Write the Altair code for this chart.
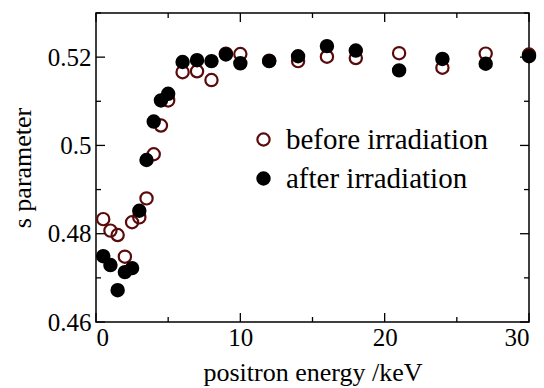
import altair as alt
import pandas as pd

energy = [0.5, 1, 1.5, 2, 2.5, 3, 3.5, 4, 4.5, 5, 6, 7, 8, 9, 10, 12, 14, 16, 18, 21, 24, 27, 30]
s_before = [0.4833, 0.4807, 0.4797, 0.4748, 0.4826, 0.4837, 0.4880, 0.4980, 0.5045, 0.5102,
            0.5166, 0.5168, 0.5148, 0.5208, 0.5207, 0.5192, 0.5191, 0.5201, 0.5198, 0.5209,
            0.5176, 0.5208, 0.5206]
s_after = [0.4749, 0.4729, 0.4672, 0.4713, 0.4722, 0.4852, 0.4967, 0.5054, 0.5102, 0.5117,
           0.5189, 0.5193, 0.5191, 0.5206, 0.5186, 0.5191, 0.5202, 0.5225, 0.5215, 0.5170,
           0.5196, 0.5185, 0.5202]
series_names = ["before irradiation", "after irradiation"]

x_major = [0, 10, 20, 30]
x_minor = [5, 15, 25]
y_major = [0.46, 0.48, 0.50, 0.52]
y_minor = [0.47, 0.49, 0.51, 0.53]

W, H = 433, 309
FONT = "Liberation Serif"
MAJ, MIN = 9, 5

df = pd.DataFrame(
    {"E": energy + energy,
     "s": s_before + s_after,
     "series": [series_names[0]] * len(energy) + [series_names[1]] * len(energy)}
)

xs = alt.Scale(domain=[0, 30], nice=False, zero=False)
ys = alt.Scale(domain=[0.46, 0.53], nice=False, zero=False)
x_axis = alt.Axis(values=x_major, title="positron energy /keV", ticks=False,
                  grid=False, labelPadding=3, titlePadding=9, format="d",
                  labelFont=FONT, titleFont=FONT, labelFontSize=25, titleFontSize=26)
y_axis = alt.Axis(values=y_major, title="s parameter", ticks=False,
                  grid=False, labelPadding=5, titlePadding=12, format=".2~f",
                  labelFont=FONT, titleFont=FONT, labelFontSize=25, titleFontSize=26)

legend = alt.Legend(title=None, orient="none", legendX=153, legendY=112,
                    labelFontSize=29, labelFont=FONT, symbolSize=150, labelLimit=400,
                    symbolStrokeWidth=2.2, rowPadding=9, labelOffset=8)

points = alt.Chart(df).mark_point(shape="circle", size=150, strokeWidth=2.2, opacity=1).encode(
    x=alt.X("E:Q", scale=xs, axis=x_axis),
    y=alt.Y("s:Q", scale=ys, axis=y_axis),
    stroke=alt.Stroke("series:N", scale=alt.Scale(domain=series_names, range=["#5a0a0a", "black"]),
                      legend=legend),
    fill=alt.Fill("series:N", scale=alt.Scale(domain=series_names, range=["transparent", "black"]),
                  legend=legend),
    order=alt.Order("ord:Q"),
).transform_calculate(ord="datum.series == 'before irradiation' ? 0 : 1")

def xticks(vals, length):
    d = pd.DataFrame({"E": vals})
    base = alt.Chart(d).mark_rule(color="black", strokeWidth=1.3)
    bot = base.encode(x=alt.X("E:Q", scale=xs, axis=x_axis), y=alt.value(H), y2=alt.value(H - length))
    top = base.encode(x=alt.X("E:Q", scale=xs, axis=x_axis), y=alt.value(0), y2=alt.value(length))
    return [bot, top]

def yticks(vals, length):
    d = pd.DataFrame({"s": vals})
    base = alt.Chart(d).mark_rule(color="black", strokeWidth=1.3)
    left = base.encode(y=alt.Y("s:Q", scale=ys, axis=y_axis), x=alt.value(0), x2=alt.value(length))
    right = base.encode(y=alt.Y("s:Q", scale=ys, axis=y_axis), x=alt.value(W), x2=alt.value(W - length))
    return [left, right]

layers = [points] + xticks(x_major, MAJ) + xticks(x_minor, MIN) + yticks(y_major, MAJ) + yticks(y_minor, MIN)

chart = alt.layer(*layers).properties(
    width=W, height=H,
    autosize=alt.AutoSizeParams(type="none"),
    padding={"left": 96, "top": 13, "right": 15, "bottom": 66},
    background="white",
).configure(font=FONT).configure_view(stroke="black", strokeWidth=1.5).configure_axis(
    domain=False, labelFont=FONT, titleFont=FONT, labelFontSize=25, titleFontSize=26,
    labelColor="black", titleColor="black", titleFontWeight="normal",
).configure_legend(labelColor="black")

chart.save("out.html", embed_options={"renderer": "svg", "actions": False})
